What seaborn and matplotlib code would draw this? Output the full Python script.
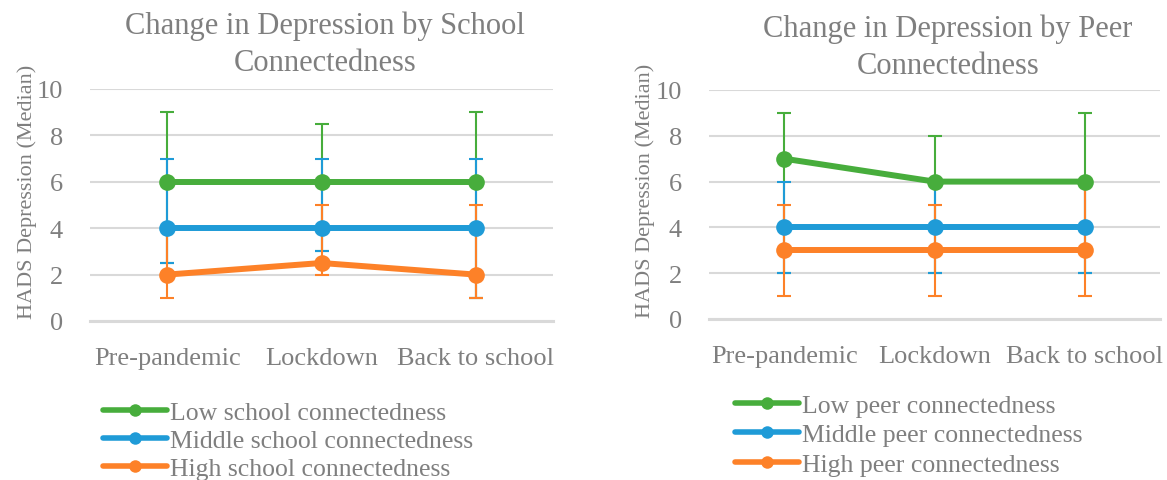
"""
Change in HADS depression (median) across the pandemic,
split by school connectedness and by peer connectedness.
"""

import matplotlib
matplotlib.use('Agg')
import matplotlib.pyplot as plt
from matplotlib.lines import Line2D
import seaborn as sns
import pandas as pd

# ==================== DATA ====================

periods = ["Pre-pandemic", "Lockdown", "Back to school"]

school_labels = ["Low school connectedness", "Middle school connectedness",
                 "High school connectedness"]
school_median = [[6, 6, 6], [4, 4, 4], [2, 2.5, 2]]
school_lower = [[2.5, 3, 1], [2.5, 3, 1], [1, 2, 1]]
school_upper = [[9, 8.5, 9], [7, 7, 7], [4, 5, 5]]

peer_labels = ["Low peer connectedness", "Middle peer connectedness",
               "High peer connectedness"]
peer_median = [[7, 6, 6], [4, 4, 4], [3, 3, 3]]
peer_lower = [[2, 2, 2], [2, 2, 2], [1, 1, 1]]
peer_upper = [[9, 8, 9], [6, 6, 6], [5, 5, 6]]

colors = ["#47ad3c", "#1f9bd7", "#fd8128"]
TEXT = "#7f7f7f"
GRID = "#d9d9d9"

# ==================== STYLE ====================

sns.set_theme(style="white")
plt.rcParams['font.family'] = ['Liberation Serif', 'DejaVu Serif']


def draw_panel(ax, labels, medians, lowers, uppers):
    rows = []
    for lab, med in zip(labels, medians):
        for p, v in zip(periods, med):
            rows.append({"Period": p, "Median": v, "Group": lab})
    df = pd.DataFrame(rows)

    sns.lineplot(data=df, x="Period", y="Median", hue="Group",
                 hue_order=labels, palette=colors, marker="o",
                 markersize=12, markeredgewidth=0, linewidth=4.3,
                 sort=False, legend=False, ax=ax, zorder=3)

    # error bars under the lines
    for med, lo, up, col in zip(medians, lowers, uppers, colors):
        yerr = [[m - l for m, l in zip(med, lo)],
                [u - m for m, u in zip(med, up)]]
        ax.errorbar(periods, med, yerr=yerr, fmt="none", ecolor=col,
                    elinewidth=1.5, capsize=4.7, capthick=1.5, zorder=2)

    ax.set_xlim(-0.5, 2.5)
    ax.set_ylim(0, 10)
    ax.set_yticks(range(0, 11, 2))
    ax.yaxis.grid(True, color=GRID, linewidth=1.5, zorder=0)
    ax.set_axisbelow(True)
    for side in ["top", "right", "left"]:
        ax.spines[side].set_visible(False)
    ax.spines["bottom"].set_color(GRID)
    ax.spines["bottom"].set_linewidth(2.2)
    ax.tick_params(axis="both", length=0, labelsize=19, colors=TEXT)
    ax.tick_params(axis="y", pad=19.5)
    ax.tick_params(axis="x", pad=19)
    ax.set_xlabel("")
    ax.set_ylabel("HADS Depression (Median)", fontsize=16, color=TEXT)


# ==================== FIGURE ====================

fig = plt.figure(figsize=(11.67, 4.81), dpi=100)
ax1 = fig.add_axes([90 / 1167, 1 - 322 / 481, 463 / 1167, 232 / 481])
ax2 = fig.add_axes([709 / 1167, 1 - 320 / 481, 451 / 1167, 229 / 481])

draw_panel(ax1, school_labels, school_median, school_lower, school_upper)
draw_panel(ax2, peer_labels, peer_median, peer_lower, peer_upper)

ax1.yaxis.set_label_coords(-0.1145, 0.5625)
ax2.yaxis.set_label_coords(-0.12, 0.563)

fig.text(325 / 1167, 1 - 44.5 / 481,
         "Change in Depression by School\nConnectedness",
         ha="center", va="center", fontsize=22, color=TEXT, linespacing=1.36)
fig.text(948 / 1167, 1 - 47.5 / 481,
         "Change in Depression by Peer\nConnectedness",
         ha="center", va="center", fontsize=22, color=TEXT, linespacing=1.36)


def add_legend(labels, x, y, spacing):
    handles = [Line2D([0], [0], color=c, linewidth=4, marker="o",
                      markersize=9, markeredgewidth=0) for c in colors]
    fig.legend(handles, labels, loc="upper left",
               bbox_to_anchor=(x / 1167, 1 - y / 481), frameon=False,
               fontsize=18.5, labelcolor=TEXT, handlelength=2.5,
               handletextpad=0.1, labelspacing=spacing, borderpad=0,
               borderaxespad=0)


add_legend(school_labels, 103, 402, 0.2)
add_legend(peer_labels, 735, 395, 0.25)

fig.savefig("out.png", dpi=100)
